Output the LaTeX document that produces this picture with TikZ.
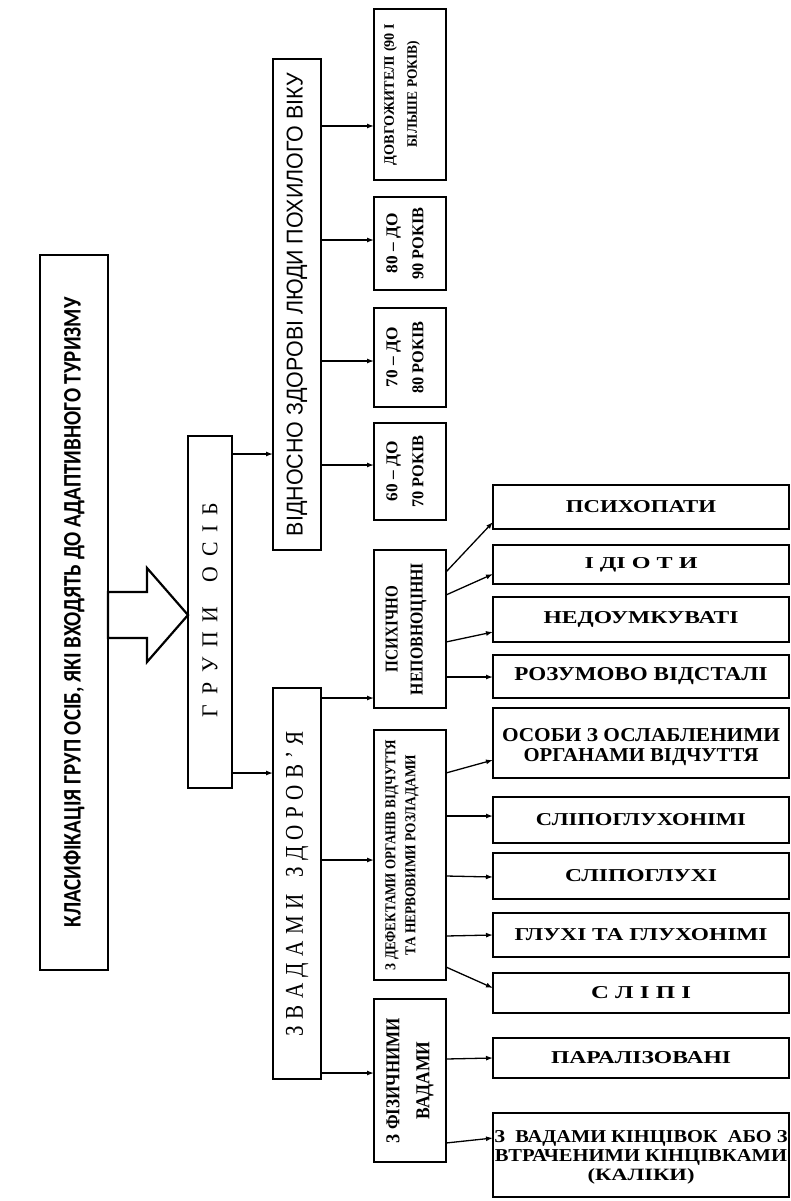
\documentclass[tikz,border=0pt]{standalone}
\usepackage{graphicx}
\usepackage{fontspec}
\setmainfont{Liberation Serif}
\newfontfamily\sansf{Liberation Sans}
\newfontfamily\calib{Carlito}
\usetikzlibrary{arrows.meta}
\newcommand\ftx[3]{\resizebox{#1pt}{#2pt}{#3}}
\newcommand\gpa{\hspace{0.45em}}
\newcommand\gpb{\hspace{0.3em}}
\begin{document}
\begin{tikzpicture}[x=1pt,y=-1pt,
  bx/.style={draw, line width=1.8pt, inner sep=0pt, outer sep=0pt},
  rtxt/.style={rotate=90, align=center, inner sep=0pt},
  htxt/.style={align=center, inner sep=0pt, font=\bfseries},
  arr/.style={line width=1.3pt, -{Latex[length=7pt,width=5pt]}},
  barrow/.style={line width=2.2pt, line join=miter}]
\useasboundingbox (0,0) rectangle (791,1201);

% boxes
\node[bx, line width=2.2pt, minimum width=68pt, minimum height=715pt] (main) at (74,612.5) {};
\node[bx, minimum width=44pt, minimum height=352pt] (grp) at (210,612) {};
\node[bx, minimum width=48pt, minimum height=491pt] (vid) at (297,304.5) {};
\node[bx, minimum width=48pt, minimum height=391pt] (vad) at (297,883.5) {};
\node[bx, minimum width=72pt, minimum height=171pt] (dovg) at (410,94.5) {};
\node[bx, minimum width=72pt, minimum height=93pt] (a80) at (410,243.5) {};
\node[bx, minimum width=72pt, minimum height=99pt] (a70) at (410,357.5) {};
\node[bx, minimum width=72pt, minimum height=97pt] (a60) at (410,471.5) {};
\node[bx, minimum width=72pt, minimum height=158pt] (psy) at (410,629) {};
\node[bx, minimum width=72pt, minimum height=250pt] (def) at (410,855) {};
\node[bx, minimum width=72pt, minimum height=163pt] (fiz) at (410,1080.5) {};
\node[bx, minimum width=296pt, minimum height=44pt] (r1) at (641,507) {};
\node[bx, minimum width=296pt, minimum height=39pt] (r2) at (641,564.5) {};
\node[bx, minimum width=296pt, minimum height=45pt] (r3) at (641,619.5) {};
\node[bx, minimum width=296pt, minimum height=43pt] (r4) at (641,676.5) {};
\node[bx, minimum width=296pt, minimum height=70pt] (r5) at (641,743) {};
\node[bx, minimum width=296pt, minimum height=46pt] (r6) at (641,820) {};
\node[bx, minimum width=296pt, minimum height=46pt] (r7) at (641,876) {};
\node[bx, minimum width=296pt, minimum height=44pt] (r8) at (641,935) {};
\node[bx, minimum width=296pt, minimum height=40pt] (r9) at (641,993) {};
\node[bx, minimum width=296pt, minimum height=40pt] (r10) at (641,1058) {};
\node[bx, minimum width=296pt, minimum height=84pt] (r11) at (641,1155) {};

% texts
\node[rtxt, font=\calib\bfseries] (maint) at (main.center) {\ftx{630}{17}{КЛАСИФІКАЦІЯ ГРУП ОСІБ, ЯКІ ВХОДЯТЬ ДО АДАПТИВНОГО ТУРИЗМУ}};
\node[rtxt] (grpt) at ([yshift=2pt]grp.center) {\ftx{214}{15}{Г\gpa Р\gpa У\gpa П\gpa И\hspace{1.1em}О\gpa С\gpa І\gpa Б}};
\node[rtxt, font=\sansf] (vidt) at (vid.center) {\ftx{463}{16}{ВІДНОСНО ЗДОРОВІ ЛЮДИ ПОХИЛОГО ВІКУ}};
\node[rtxt] (vadt) at (vad.center) {\ftx{305}{17}{З\gpb В\gpb А\gpb Д\gpb А\gpb М\gpb И\hspace{0.8em}З\gpb Д\gpb О\gpb Р\gpb О\gpb В\gpb ’\gpb Я}};
\node[rtxt, font=\bfseries\fontsize{12}{23}\selectfont] (dovgt) at ([xshift=-8pt]dovg.center) {\ftx{141}{10}{ДОВГОЖИТЕЛІ (90 І}\\\ftx{107}{10}{БІЛЬШЕ РОКІВ)}};
\node[rtxt, font=\bfseries\fontsize{12}{26}\selectfont] (a80t) at ([xshift=-5pt]a80.center) {\ftx{60}{11}{80 – ДО}\\\ftx{72}{11}{90 РОКІВ}};
\node[rtxt, font=\bfseries\fontsize{12}{26}\selectfont] (a70t) at ([xshift=-5pt]a70.center) {\ftx{60}{11}{70 – ДО}\\\ftx{72}{11}{80 РОКІВ}};
\node[rtxt, font=\bfseries\fontsize{12}{26}\selectfont] (a60t) at ([xshift=-5pt]a60.center) {\ftx{60}{11}{60 – ДО}\\\ftx{72}{11}{70 РОКІВ}};
\node[rtxt, font=\bfseries\fontsize{12}{25}\selectfont] (psyt) at ([xshift=-4pt]psy.center) {\ftx{86}{12}{ПСИХІЧНО}\\\ftx{132}{12}{НЕПОВНОЦІННІ}};
\node[rtxt, font=\bfseries\fontsize{12}{20}\selectfont] (deft) at ([xshift=-8pt]def.center) {\ftx{230}{10}{З ДЕФЕКТАМИ ОРГАНІВ ВІДЧУТТЯ}\\\ftx{200}{10}{ТА НЕРВОВИМИ РОЗЛАДАМИ}};
\node[rtxt, font=\bfseries\fontsize{12}{30}\selectfont] (fizt) at (fiz.center) {\ftx{125}{13}{З ФІЗИЧНИМИ}\\\ftx{78}{13}{ВАДАМИ}};

\node[htxt] (r1t) at (r1.center) {\ftx{150}{12}{ПСИХОПАТИ}};
\node[htxt] (r2t) at (r2.center) {\ftx{113}{11}{І ДІ О Т И}};
\node[htxt] (r3t) at (r3.center) {\ftx{195}{12}{НЕДОУМКУВАТІ}};
\node[htxt] (r4t) at (r4.center) {\ftx{253}{13}{РОЗУМОВО ВІДСТАЛІ}};
\node[htxt, font=\bfseries\fontsize{12}{20}\selectfont] (r5t) at ([yshift=-4pt]r5.center) {\ftx{278}{13}{ОСОБИ З ОСЛАБЛЕНИМИ}\\\ftx{235}{13}{ОРГАНАМИ ВІДЧУТТЯ}};
\node[htxt] (r6t) at (r6.center) {\ftx{210}{12}{СЛІПОГЛУХОНІМІ}};
\node[htxt] (r7t) at (r7.center) {\ftx{152}{12}{СЛІПОГЛУХІ}};
\node[htxt] (r8t) at (r8.center) {\ftx{253}{12}{ГЛУХІ ТА ГЛУХОНІМІ}};
\node[htxt] (r9t) at (r9.center) {\ftx{100}{12}{С Л І П І}};
\node[htxt] (r10t) at (r10.center) {\ftx{180}{12}{ПАРАЛІЗОВАНІ}};
\node[htxt, font=\bfseries\fontsize{12}{19}\selectfont] (r11t) at ([yshift=-2pt]r11.center) {\ftx{293}{12}{З\ \ ВАДАМИ КІНЦІВОК\ \ АБО З}\\\ftx{292}{12}{ВТРАЧЕНИМИ КІНЦІВКАМИ}\\\ftx{107}{12}{(КАЛІКИ)}};

% block arrow
\draw[barrow] (main.east |- 0,592) -- (147,592) -- (147,568) -- (grp.west |- 0,615)
  -- (147,662) -- (147,638) -- (main.east |- 0,638) -- cycle;

% connectors
\draw[arr] (grp.east |- 0,454) -- (vid.west |- 0,454);
\draw[arr] (grp.east |- 0,773) -- (vad.west |- 0,773);
\draw[arr] (vid.east |- 0,126) -- (dovg.west |- 0,126);
\draw[arr] (vid.east |- 0,240) -- (a80.west |- 0,240);
\draw[arr] (vid.east |- 0,361) -- (a70.west |- 0,361);
\draw[arr] (vid.east |- 0,465) -- (a60.west |- 0,465);
\draw[arr] (vad.east |- 0,698) -- (psy.west |- 0,698);
\draw[arr] (vad.east |- 0,860) -- (def.west |- 0,860);
\draw[arr] (vad.east |- 0,1073) -- (fiz.west |- 0,1073);
\draw[arr] (psy.east |- 0,572) -- (r1.west |- 0,522);
\draw[arr] (psy.east |- 0,595) -- (r2.west |- 0,574);
\draw[arr] (psy.east |- 0,642) -- (r3.west |- 0,632);
\draw[arr] (psy.east |- 0,677) -- (r4.west |- 0,677);
\draw[arr] (def.east |- 0,773) -- (r5.west |- 0,760);
\draw[arr] (def.east |- 0,816) -- (r6.west |- 0,816);
\draw[arr] (def.east |- 0,876) -- (r7.west |- 0,877);
\draw[arr] (def.east |- 0,936) -- (r8.west |- 0,935);
\draw[arr] (def.east |- 0,967) -- (r9.west |- 0,988);
\draw[arr] (fiz.east |- 0,1059) -- (r10.west |- 0,1058);
\draw[arr] (fiz.east |- 0,1143) -- (r11.west |- 0,1138);
\end{tikzpicture}
\end{document}
